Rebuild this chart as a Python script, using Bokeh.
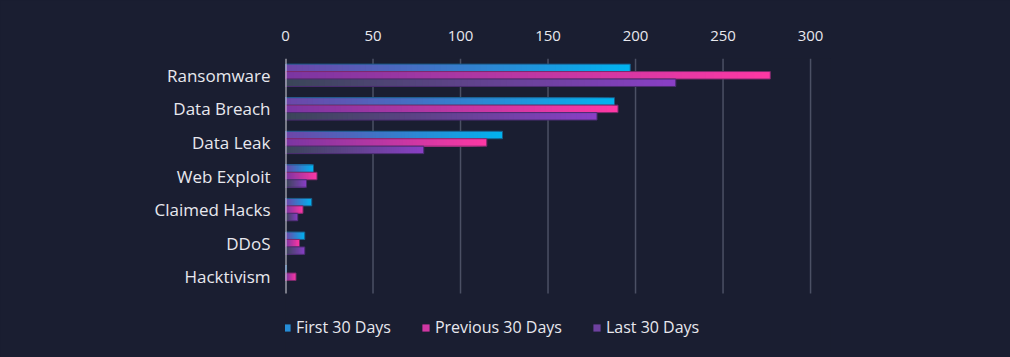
from bokeh.plotting import figure
from bokeh.models import Range1d, Legend, LegendItem, FixedTicker, ColumnDataSource
from bokeh.embed import file_html
from bokeh.resources import INLINE

categories = ["Ransomware", "Data Breach", "Data Leak", "Web Exploit", "Claimed Hacks", "DDoS", "Hacktivism"]
first_30 = [197, 188, 124, 16, 15, 11, 0.6]
previous_30 = [277, 190, 115, 18, 10, 8, 6]
last_30 = [223, 178, 79, 12, 7, 11, 0]
series_names = ["First 30 Days", "Previous 30 Days", "Last 30 Days"]
x_ticks = [0, 50, 100, 150, 200, 250, 300]

BG = "#1a1e31"
TXT = "#e8e8ee"
FONT = "Open Sans"

grad = {
    "First 30 Days": ("#6e45a8", "#00b4f0"),
    "Previous 30 Days": ("#7a36a2", "#ff38a4"),
    "Last 30 Days": ("#3a4658", "#8a3fc6"),
}
edge = {
    "First 30 Days": "#1a5a86",
    "Previous 30 Days": "#7a2a6a",
    "Last 30 Days": "#4a2c70",
}

def hx(c):
    c = c.lstrip("#")
    return [int(c[i:i + 2], 16) for i in (0, 2, 4)]

def lerp(a, b, t):
    A, B = hx(a), hx(b)
    return "#%02x%02x%02x" % tuple(int(round(A[i] + (B[i] - A[i]) * t)) for i in range(3))

n = len(categories)
cat_y = [n - 1 - i for i in range(n)]  # Ransomware on top

p = figure(width=1010, height=357, output_backend="svg", toolbar_location=None,
           x_range=Range1d(0, 311.4), y_range=Range1d(-2.196, n - 0.5),
           x_axis_location="above", background_fill_color=BG, border_fill_color=BG,
           min_border_left=285, min_border_right=180, min_border_top=58, min_border_bottom=7)
p.styles = {"background-color": BG}
p.outline_line_color = None
p.xgrid.grid_line_color = None
p.ygrid.grid_line_color = None
p.xaxis.ticker = FixedTicker(ticks=x_ticks)
p.xaxis.axis_line_color = None
p.xaxis.major_tick_line_color = None
p.xaxis.minor_tick_line_color = None
p.xaxis.major_label_text_color = TXT
p.xaxis.major_label_text_font = FONT
p.xaxis.major_label_text_font_size = "15px"
p.xaxis.major_label_standoff = 12
p.yaxis.ticker = FixedTicker(ticks=cat_y)
p.yaxis.major_label_overrides = {y: c for y, c in zip(cat_y, categories)}
p.yaxis.axis_line_color = None
p.yaxis.major_tick_line_color = None
p.yaxis.minor_tick_line_color = None
p.yaxis.major_label_text_color = TXT
p.yaxis.major_label_text_font = FONT
p.yaxis.major_label_text_font_size = "17px"
p.yaxis.major_label_standoff = 9

# vertical gridlines over the category area only
p.segment(x0=x_ticks[1:], y0=-0.5, x1=x_ticks[1:], y1=n - 0.5, line_color="#4b5064", line_width=1.5)

N = 60
bar_h = 0.222
offsets = [0.222, 0.0, -0.222]
legend_items = []
for s_idx, (name, vals) in enumerate(zip(series_names, [first_30, previous_30, last_30])):
    c0, c1 = grad[name]
    rights, ys, cols = [], [], []
    for k in range(N, 0, -1):
        for y, v in zip(cat_y, vals):
            if v <= 0:
                continue
            rights.append(v * k / N)
            ys.append(y + offsets[s_idx])
            cols.append(lerp(c0, c1, (k - 0.5) / N))
    src = ColumnDataSource(dict(y=ys, right=rights, c=cols))
    p.hbar(y="y", left=0, right="right", height=bar_h, fill_color="c", line_color=None, source=src)
    osrc = ColumnDataSource(dict(y=[y + offsets[s_idx] for y, v in zip(cat_y, vals) if v > 0],
                                 right=[v for v in vals if v > 0]))
    p.hbar(y="y", left=0, right="right", height=bar_h, fill_color=None,
           line_color=edge[name], line_width=1, source=osrc)
    r = p.hbar(y=[0], left=[-100], right=[-99], height=0.1,
               fill_color=lerp(c0, c1, 0.65), line_color=None)
    legend_items.append(LegendItem(label=name, renderers=[r]))

p.segment(x0=[0], y0=[-0.5], x1=[0], y1=[n - 0.5], line_color="#d8d8e0", line_width=2)

legend = Legend(items=legend_items, orientation="horizontal", location=(-3, 12),
                background_fill_alpha=0, border_line_color=None, padding=0, margin=0,
                label_text_color=TXT, label_text_font=FONT, label_text_font_size="16px",
                glyph_width=9, glyph_height=9, label_standoff=5, spacing=30)
p.add_layout(legend, "center")

open("out.html", "w").write(file_html(p, INLINE))
